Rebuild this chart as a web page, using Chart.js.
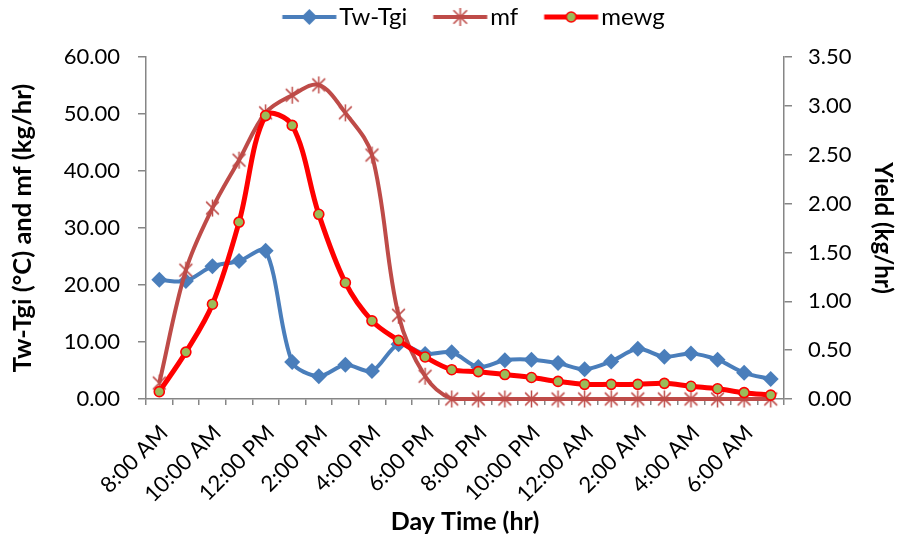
<!DOCTYPE html>
<html>
<head>
<meta charset="utf-8">
<script src="https://cdn.jsdelivr.net/npm/chart.js@4.4.1/dist/chart.umd.min.js"></script>
<style>
  html, body { margin: 0; padding: 0; background: #ffffff; }
  canvas { display: block; }
</style>
</head>
<body>
<canvas id="c" width="899" height="539"></canvas>
<script>
// ---- data ----
const categories = ['8:00 AM','9:00 AM','10:00 AM','11:00 AM','12:00 PM','1:00 PM','2:00 PM','3:00 PM',
  '4:00 PM','5:00 PM','6:00 PM','7:00 PM','8:00 PM','9:00 PM','10:00 PM','11:00 PM',
  '12:00 AM','1:00 AM','2:00 AM','3:00 AM','4:00 AM','5:00 AM','6:00 AM','7:00 AM'];
const twTgi = [20.9, 20.7, 23.3, 24.2, 26.0, 6.5, 4.0, 6.0, 4.9, 9.6, 7.9, 8.2,
  5.6, 6.8, 6.9, 6.3, 5.2, 6.6, 8.8, 7.4, 8.0, 6.9, 4.6, 3.5];
const mf = [2.8, 22.6, 33.5, 41.9, 50.2, 53.3, 55.1, 50.2, 42.8, 14.7, 4.0, 0,
  0, 0, 0, 0, 0, 0, 0, 0, 0, 0, 0, 0];
const mewg = [0.075, 0.48, 0.97, 1.81, 2.90, 2.80, 1.89, 1.19, 0.80, 0.60, 0.43, 0.30,
  0.28, 0.25, 0.22, 0.18, 0.15, 0.15, 0.15, 0.16, 0.13, 0.105, 0.065, 0.04];
const leftTicks = { min: 0, max: 60, step: 10 };
const rightTicks = { min: 0, max: 3.5, step: 0.5 };

// ---- styles ----
const BLUE = '#4A7EBB', BROWN = '#BE4B48', RED = '#FF0000', GREEN = '#9BBB59', AXIS = '#868686';
const FONT = 'Lato, "Open Sans", sans-serif';
const LEG_FONT = 24;

function starMarker(size, color, lw) {
  const c = document.createElement('canvas');
  c.width = size; c.height = size;
  const g = c.getContext('2d');
  g.strokeStyle = color; g.lineWidth = lw;
  const h = size / 2, r = size / 2 - 1;
  const d = r * 0.75;
  g.beginPath();
  g.moveTo(h - d, h - d); g.lineTo(h + d, h + d);
  g.moveTo(h + d, h - d); g.lineTo(h - d, h + d);
  g.moveTo(h, h - r); g.lineTo(h, h + r);
  g.stroke();
  return c;
}
// legend swatch: transparent canvas, line from A to B, marker in the middle
const SW_W = 100, SW_A = 38.5, SW_B = 92.5, BOXW = 67;
function legendSwatch(kind) {
  const hgt = 22;
  const c = document.createElement('canvas');
  c.width = SW_W; c.height = hgt;
  const g = c.getContext('2d');
  const cy = hgt / 2, mx = (SW_A + SW_B) / 2;
  if (kind === 'blue') {
    g.strokeStyle = BLUE; g.lineWidth = 4;
    g.beginPath(); g.moveTo(SW_A, cy); g.lineTo(SW_B, cy); g.stroke();
    g.fillStyle = BLUE; g.beginPath();
    g.moveTo(mx - 8, cy); g.lineTo(mx, cy - 8); g.lineTo(mx + 8, cy); g.lineTo(mx, cy + 8); g.closePath(); g.fill();
  } else if (kind === 'mf') {
    g.strokeStyle = BROWN; g.lineWidth = 4;
    g.beginPath(); g.moveTo(SW_A, cy); g.lineTo(SW_B, cy); g.stroke();
    g.drawImage(starMarker(20, BROWN, 1.6), mx - 10, cy - 10);
  } else {
    g.strokeStyle = RED; g.lineWidth = 5;
    g.beginPath(); g.moveTo(SW_A, cy); g.lineTo(SW_B, cy); g.stroke();
    g.fillStyle = GREEN; g.beginPath(); g.arc(mx, cy, 5, 0, Math.PI * 2); g.fill();
    g.lineWidth = 1.6; g.strokeStyle = RED; g.stroke();
  }
  return c;
}
const mfMarker = starMarker(19, BROWN, 1.5);
const swatches = [legendSwatch('blue'), legendSwatch('mf'), legendSwatch('mewg')];

const PAD = { left: 4, right: 2, top: 19, bottom: 2 };
const LEGEND_SHIFT = { dx: 12, dy: -18 };

const legendShift = {
  id: 'legendShift',
  beforeInit(chart) {
    const lg = chart.legend;
    if (!lg) return;
    const orig = lg.draw;
    lg.draw = function () {
      const ctx = this.ctx;
      ctx.save();
      ctx.translate(LEGEND_SHIFT.dx, LEGEND_SHIFT.dy);
      orig.call(this);
      ctx.restore();
    };
  }
};

const chart = new Chart(document.getElementById('c'), {
  type: 'line',
  data: {
    labels: categories,
    datasets: [
      { label: 'Tw-Tgi', data: twTgi, yAxisID: 'y', borderColor: BLUE, backgroundColor: BLUE,
        borderWidth: 4, tension: 0.3, pointStyle: 'rectRot', pointRadius: 8, pointBorderWidth: 0,
        pointBackgroundColor: BLUE, order: 3, clip: false },
      { label: 'mf', data: mf, yAxisID: 'y', borderColor: BROWN, backgroundColor: BROWN,
        borderWidth: 4, tension: 0.35, pointStyle: mfMarker, pointRadius: 9, order: 2, clip: false },
      { label: 'mewg', data: mewg, yAxisID: 'y1', borderColor: RED, backgroundColor: GREEN,
        borderWidth: 5, tension: 0.35, pointStyle: 'circle', pointRadius: 5, pointBorderWidth: 1.6,
        pointBorderColor: RED, pointBackgroundColor: GREEN, order: 1, clip: false }
    ]
  },
  plugins: [legendShift],
  options: {
    responsive: false, animation: false,
    layout: { padding: PAD },
    plugins: {
      tooltip: { enabled: false },
      legend: {
        position: 'top',
        labels: {
          usePointStyle: true, pointStyleWidth: BOXW, padding: 4, color: '#000',
          font: { family: FONT, size: LEG_FONT },
          sort: (a, b) => a.datasetIndex - b.datasetIndex,
          generateLabels: (ch) => ch.data.datasets.map((ds, i) => ({
            text: ds.label, pointStyle: swatches[i], datasetIndex: i, hidden: false,
            fillStyle: ds.borderColor, strokeStyle: ds.borderColor, lineWidth: 0, fontColor: '#000'
          }))
        }
      }
    },
    scales: {
      x: {
        type: 'category', offset: true,
        grid: { offset: true, drawOnChartArea: false, drawTicks: true, tickLength: 6, color: AXIS, lineWidth: 1.5 },
        border: { color: AXIS, width: 1.5 },
        ticks: { autoSkip: false, maxRotation: 45, minRotation: 45, color: '#000', padding: 15, labelOffset: 5,
          font: { family: FONT, size: 22 },
          callback: (v, i) => (i % 2 === 0 ? categories[i] : '') },
        title: { display: true, text: 'Day Time (hr)', color: '#000', padding: { top: 0, bottom: 0 },
          font: { family: FONT, size: 25, weight: 'bold' } },
        afterFit: (s) => { s.height = 539 - 399 - PAD.bottom; }
      },
      y: {
        position: 'left', min: leftTicks.min, max: leftTicks.max,
        grid: { drawOnChartArea: false, drawTicks: true, tickLength: 8, color: AXIS, lineWidth: 1.5 },
        border: { color: AXIS, width: 1.5 },
        ticks: { stepSize: leftTicks.step, padding: 18, color: '#000', font: { family: FONT, size: 22 },
          callback: (v) => Number(v).toFixed(2) },
        title: { display: true, text: 'Tw-Tgi (°C) and mf (kg/hr)', color: '#000', padding: { top: 3, bottom: 0 },
          font: { family: FONT, size: 25.5, weight: 'bold' } },
        afterFit: (s) => { s.width = 146 - PAD.left; }
      },
      y1: {
        position: 'right', min: rightTicks.min, max: rightTicks.max,
        grid: { drawOnChartArea: false, drawTicks: true, tickLength: 8, color: AXIS, lineWidth: 1.5 },
        border: { color: AXIS, width: 1.5 },
        ticks: { stepSize: rightTicks.step, padding: 16, color: '#000', font: { family: FONT, size: 22 },
          callback: (v) => Number(v).toFixed(2) },
        title: { display: true, text: 'Yield (kg/hr)', color: '#000', padding: { top: 0, bottom: 0 },
          font: { family: FONT, size: 24, weight: 'bold' } },
        afterFit: (s) => { s.width = 899 - 784 - PAD.right; }
      }
    }
  }
});
</script>
</body>
</html>
